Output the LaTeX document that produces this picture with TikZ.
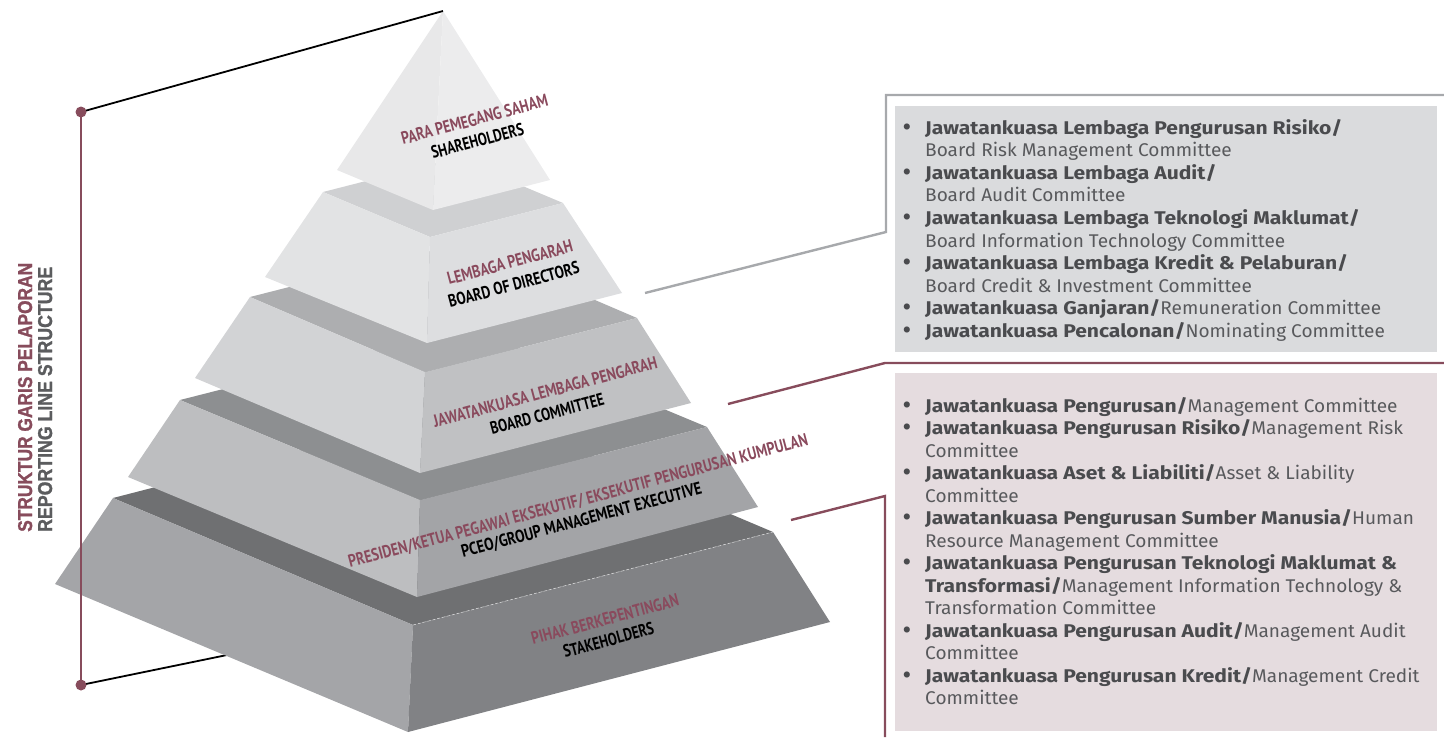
\documentclass[tikz,border=0pt]{standalone}
\usepackage{fontspec}
\usepackage{graphicx}
\setmainfont{Fira Sans}
\newfontfamily\labfont{PT Sans}
\newfontfamily\titlefont{Liberation Sans}[BoldFeatures={FakeBold=1.4}]
\definecolor{maroon}{HTML}{874C5C}
\definecolor{labred}{HTML}{8A4A5D}
\definecolor{titlegray}{HTML}{5B5C5E}
\definecolor{boxtext}{HTML}{58595C}
\definecolor{boxbold}{HTML}{4A4B4E}
\definecolor{grayline}{HTML}{A7A9AC}
\definecolor{grayfill}{HTML}{DADBDD}
\definecolor{pinkfill}{HTML}{E5DCDF}
\definecolor{aL}{HTML}{E8E8E9}\definecolor{aR}{HTML}{ECECED}
\definecolor{bT}{HTML}{CFD0D2}\definecolor{bL}{HTML}{E2E3E4}\definecolor{bR}{HTML}{DDDEE0}
\definecolor{cT}{HTML}{ADAEB0}\definecolor{cL}{HTML}{D2D3D5}\definecolor{cR}{HTML}{C0C1C3}
\definecolor{dT}{HTML}{8D8F91}\definecolor{dL}{HTML}{BDBEC0}\definecolor{dR}{HTML}{A3A4A7}
\definecolor{eT}{HTML}{6F7072}\definecolor{eL}{HTML}{A4A5A8}\definecolor{eR}{HTML}{818285}
\tikzset{
  blackline/.style={draw=black, line width=1.8pt},
  bracketline/.style={draw=maroon, line width=2.8pt},
  grayconn/.style={draw=grayline, line width=2.4pt},
  maroonconn/.style={draw=maroon, line width=2.4pt},
  boxtxt/.style={inner sep=0pt, text=boxtext, font=\fontsize{18.4}{20}\selectfont},
  plab/.style={inner sep=0pt, rotate=15, anchor=base west},
  ttl/.style={inner sep=0pt, rotate=90, anchor=base west}
}
\newcommand\PL[2]{\resizebox{#1pt}{\height}{\labfont\fontsize{17.5}{18}\selectfont\bfseries #2}}
\newcommand\TL[2]{\resizebox{#1pt}{\height}{\titlefont\bfseries\fontsize{20}{22}\selectfont #2}}
\newcommand\B[1]{\scalebox{1.145}[1]{\textcolor{boxbold}{\textbf{#1}}}}
\newcommand\R[1]{\scalebox{1.035}[1]{#1}}
\newcommand\bul[3]{\node[boxtxt, anchor=base west] (#1) at (925,#2) {#3};\node[boxtxt, anchor=base, font=\fontsize{22}{22}\selectfont] (#1b) at (907,#2) {\textcolor{boxbold}{\textbf{\textbullet}}};}
\newcommand\cnt[3]{\node[boxtxt, anchor=base west] (#1) at (925,#2) {#3};}
\begin{document}
\begin{tikzpicture}[x=1pt,y=-1pt]
\useasboundingbox (0,0) rectangle (1444,737);
% ---- coordinates
\coordinate (A) at (443,11);
\coordinate (L1b) at (337,170); \coordinate (F1b) at (433,210); \coordinate (R1b) at (550,180);
\coordinate (L2t) at (323,192); \coordinate (F2t) at (430,237); \coordinate (R2t) at (563,203); \coordinate (B2) at (456,158);
\coordinate (L2b) at (265,277); \coordinate (F2b) at (427,343); \coordinate (R2b) at (622,293);
\coordinate (L3t) at (250,297); \coordinate (F3t) at (425,372); \coordinate (R3t) at (637,318); \coordinate (B3) at (462,243);
\coordinate (L3b) at (195,378); \coordinate (F3b) at (420,473); \coordinate (R3b) at (691,403);
\coordinate (L4t) at (180,400); \coordinate (F4t) at (420,500); \coordinate (R4t) at (707,427); \coordinate (B4) at (467,327);
\coordinate (L4b) at (128,477); \coordinate (F4b) at (417,597); \coordinate (R4b) at (758,507);
\coordinate (L5t) at (113,498); \coordinate (F5t) at (413,625); \coordinate (R5t) at (773,532); \coordinate (B5) at (473,405);
\coordinate (L5b) at (55,584); \coordinate (F5b) at (408,732); \coordinate (R5b) at (830,622);
\coordinate (dotT) at (81,112); \coordinate (dotB) at (81,685);
\coordinate (behind) at (300,640);
% ---- line behind the pyramid
\draw[blackline] (dotB) -- (behind);
% ---- tier 5
\fill[eT] (L5t) -- (F5t) -- (R5t) -- (B5) -- cycle;
\fill[eL] (L5t) -- (F5t) -- (F5b) -- (L5b) -- cycle;
\fill[eR] (F5t) -- (R5t) -- (R5b) -- (F5b) -- cycle;
\draw[white, opacity=0.6, line width=0.6pt, dash pattern=on 3pt off 2pt] (F5t) -- (R5t);
% ---- tier 4
\fill[dT] (L4t) -- (F4t) -- (R4t) -- (B4) -- cycle;
\fill[dL] (L4t) -- (F4t) -- (F4b) -- (L4b) -- cycle;
\fill[dR] (F4t) -- (R4t) -- (R4b) -- (F4b) -- cycle;
% ---- tier 3
\fill[cT] (L3t) -- (F3t) -- (R3t) -- (B3) -- cycle;
\fill[cL] (L3t) -- (F3t) -- (F3b) -- (L3b) -- cycle;
\fill[cR] (F3t) -- (R3t) -- (R3b) -- (F3b) -- cycle;
% ---- tier 2
\fill[bT] (L2t) -- (F2t) -- (R2t) -- (B2) -- cycle;
\fill[bL] (L2t) -- (F2t) -- (F2b) -- (L2b) -- cycle;
\fill[bR] (F2t) -- (R2t) -- (R2b) -- (F2b) -- cycle;
% ---- tier 1
\fill[aL] (A) -- (F1b) -- (L1b) -- cycle;
\fill[aR] (A) -- (R1b) -- (F1b) -- cycle;
% ---- pyramid labels
\node[plab, text=labred] (t1a) at (403,145) {\PL{151}{PARA PEMEGANG SAHAM}};
\node[plab, text=black] (t1b) at (433,159) {\PL{95}{SHAREHOLDERS}};
\node[plab, text=labred] (t2a) at (449,285) {\PL{129}{LEMBAGA PENGARAH}};
\node[plab, text=black] (t2b) at (450,308) {\PL{135}{BOARD OF DIRECTORS}};
\node[plab, text=labred] (t3a) at (435,428) {\PL{231}{JAWATANKUASA LEMBAGA PENGARAH}};
\node[plab, text=black] (t3b) at (492,435) {\PL{117}{BOARD COMMITTEE}};
\node[plab, text=labred] (t4a) at (350,568) {\PL{475}{PRESIDEN/KETUA PEGAWAI EKSEKUTIF/ EKSEKUTIF PENGURUSAN KUMPULAN}};
\node[plab, text=black] (t4b) at (463,558) {\PL{248}{PCEO/GROUP MANAGEMENT EXECUTIVE}};
\node[plab, text=labred] (t5a) at (533,645) {\PL{152}{PIHAK BERKEPENTINGAN}};
\node[plab, text=black] (t5b) at (565,658) {\PL{93}{STAKEHOLDERS}};
% ---- bracket
\draw[blackline] (dotT) -- (A);
\draw[bracketline] (dotT) -- (dotB);
\fill[maroon] (dotT) circle (5.5);
\fill[maroon] (dotB) circle (5.5);
\node[ttl, text=maroon] (title1) at (32,532) {\TL{269}{STRUKTUR GARIS PELAPORAN}};
\node[ttl, text=titlegray] (title2) at (52,532) {\TL{265}{REPORTING LINE STRUCTURE}};
% ---- boxes
\fill[grayfill] (895,106) rectangle (1437,352);
\fill[pinkfill] (895,373) rectangle (1437,731);
\node[inner sep=0pt, minimum width=542pt, minimum height=246pt, anchor=north west] (boxA) at (895,106) {};
\node[inner sep=0pt, minimum width=542pt, minimum height=358pt, anchor=north west] (boxB) at (895,373) {};
% ---- connectors
\coordinate (gA) at (645,293); \coordinate (gB) at (886,232); \coordinate (gC) at (886,95); \coordinate (gD) at (1444,95);
\draw[grayconn] (gA) -- (gB) -- (gC) -- (gD);
\coordinate (mA) at (728,404); \coordinate (mB) at (885,363); \coordinate (mC) at (1444,363);
\draw[maroonconn] (mA) -- (mB) -- (mC);
\coordinate (nA) at (791,520); \coordinate (nB) at (885,496); \coordinate (nC) at (885,737);
\draw[maroonconn] (nA) -- (nB) -- (nC);
% ---- box A text
\bul{a1}{134}{\B{Jawatankuasa Lembaga Pengurusan Risiko/}}
\cnt{a2}{156.6}{\R{Board Risk Management Committee}}
\bul{a3}{179.2}{\B{Jawatankuasa Lembaga Audit/}}
\cnt{a4}{201.8}{\R{Board Audit Committee}}
\bul{a5}{224.4}{\B{Jawatankuasa Lembaga Teknologi Maklumat/}}
\cnt{a6}{247}{\R{Board Information Technology Committee}}
\bul{a7}{269.6}{\B{Jawatankuasa Lembaga Kredit \& Pelaburan/}}
\cnt{a8}{292.2}{\R{Board Credit \& Investment Committee}}
\bul{a9}{314.8}{\B{Jawatankuasa Ganjaran/}\R{Remuneration Committee}}
\bul{a10}{337.4}{\B{Jawatankuasa Pencalonan/}\R{Nominating Committee}}
% ---- box B text
\bul{b1}{412}{\B{Jawatankuasa Pengurusan/}\R{Management Committee}}
\bul{b2}{434.5}{\B{Jawatankuasa Pengurusan Risiko/}\R{Management Risk}}
\cnt{b3}{457}{\R{Committee}}
\bul{b4}{479.5}{\B{Jawatankuasa Aset \& Liabiliti/}\R{Asset \& Liability}}
\cnt{b5}{502}{\R{Committee}}
\bul{b6}{524.5}{\B{Jawatankuasa Pengurusan Sumber Manusia/}\R{Human}}
\cnt{b7}{547}{\R{Resource Management Committee}}
\bul{b8}{569.5}{\B{Jawatankuasa Pengurusan Teknologi Maklumat \&}}
\cnt{b9}{592}{\B{Transformasi/}\R{Management Information Technology \&}}
\cnt{b10}{614.5}{\R{Transformation Committee}}
\bul{b11}{637}{\B{Jawatankuasa Pengurusan Audit/}\R{Management Audit}}
\cnt{b12}{659.5}{\R{Committee}}
\bul{b13}{682}{\B{Jawatankuasa Pengurusan Kredit/}\R{Management Credit}}
\cnt{b14}{704.5}{\R{Committee}}
\end{tikzpicture}
\end{document}
